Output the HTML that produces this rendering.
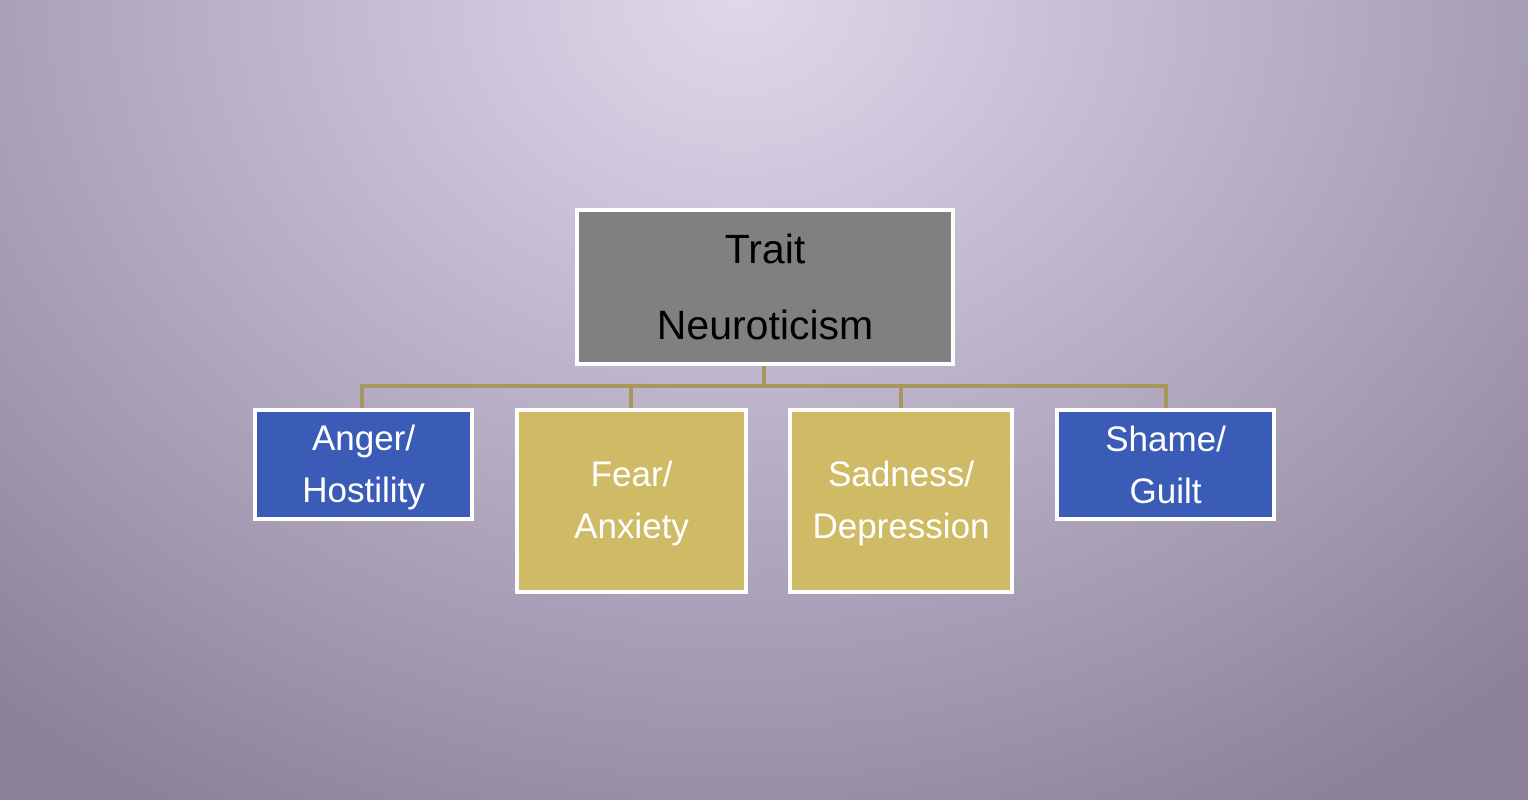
<!DOCTYPE html>
<html><head><style>
body{margin:0;width:1528px;height:800px;overflow:hidden;font-family:"Liberation Sans",sans-serif;
background:radial-gradient(ellipse 1150px 950px at 740px 0px,#e0d8e9 0%,#c3bad2 35%,#a59cb3 70%,#8b8196 100%);position:relative}
.b{position:absolute;box-sizing:border-box;border:4px solid #fff;display:flex;align-items:center;justify-content:center;text-align:center;color:#fff;font-size:35px;line-height:52px}
.l{position:absolute;background:#a8975a}
</style></head><body>
<div class="b" style="left:575px;top:208px;width:380px;height:158px;background:#808080;color:#000;font-size:41px;line-height:76px">Trait<br>Neuroticism</div>
<div class="l" style="left:762px;top:366px;width:4px;height:22px"></div>
<div class="l" style="left:360px;top:384px;width:808px;height:4px"></div>
<div class="l" style="left:360px;top:384px;width:4px;height:25px"></div>
<div class="l" style="left:629px;top:384px;width:4px;height:25px"></div>
<div class="l" style="left:899px;top:384px;width:4px;height:25px"></div>
<div class="l" style="left:1164px;top:384px;width:4px;height:25px"></div>
<div class="b" style="left:253px;top:408px;width:221px;height:113px;background:#3a5bb6">Anger/<br>Hostility</div>
<div class="b" style="left:515px;top:408px;width:233px;height:186px;background:#cfba66">Fear/<br>Anxiety</div>
<div class="b" style="left:788px;top:408px;width:226px;height:186px;background:#cfba66">Sadness/<br>Depression</div>
<div class="b" style="left:1055px;top:408px;width:221px;height:113px;background:#3a5bb6;align-items:flex-start;padding-top:2px">Shame/<br>Guilt</div>
</body></html>
